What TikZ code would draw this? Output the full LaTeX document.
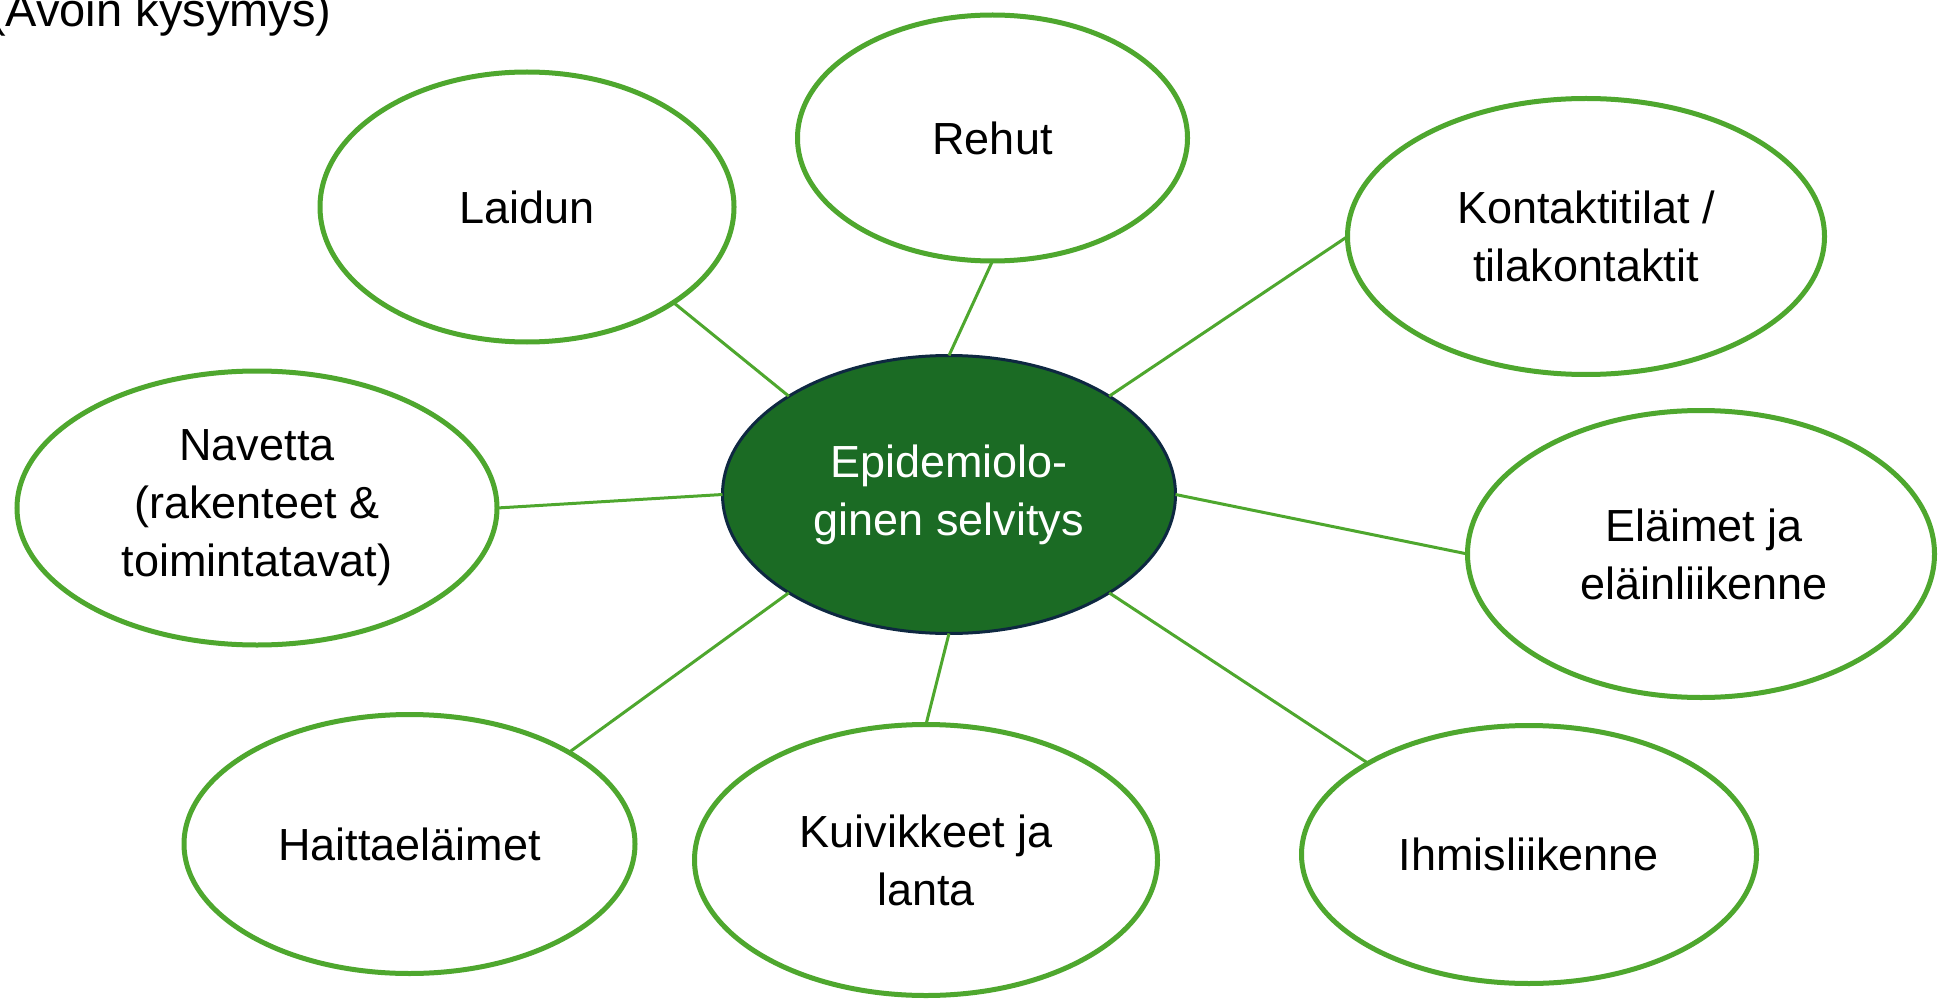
\documentclass[tikz,border=0pt]{standalone}
\usepackage{fontspec}
\setmainfont{Liberation Sans}
\usetikzlibrary{shapes.geometric}
\definecolor{lgreen}{HTML}{4EA72E}
\definecolor{dgreen}{HTML}{1B6B24}
\definecolor{navy}{HTML}{0E2841}
\begin{document}
\begin{tikzpicture}[x=1pt,y=-1pt,
  topic/.style={ellipse, draw=lgreen, line width=5pt, fill=white, inner sep=0pt, outer sep=0pt,
    align=center, font=\fontsize{45}{58}\selectfont, text=black},
  hub/.style={ellipse, draw=navy, line width=3pt, fill=dgreen, inner sep=0pt, outer sep=0pt,
    align=center, font=\fontsize{45}{58}\selectfont, text=white},
  link/.style={draw=lgreen, line width=3pt}]
\useasboundingbox (0,0) rectangle (1938,1000);
\node[anchor=base west, inner sep=0pt, font=\fontsize{47}{56}\selectfont] (title) at (-10,27) {(Avoin kysymys)};
\node[hub, minimum width=453pt, minimum height=278pt] (c) at (949,494.5) {Epidemiolo-\\ginen selvitys};
\node[topic, minimum width=414pt, minimum height=270pt] (laidun) at (527,207) {Laidun};
\node[topic, minimum width=390pt, minimum height=246pt] (rehut) at (992.5,138) {Rehut};
\node[topic, minimum width=477pt, minimum height=276pt] (kont) at (1586,236.5) {Kontaktitilat /\\tilakontaktit};
\node[topic, minimum width=480pt, minimum height=274pt] (nav) at (257,508) {Navetta\\(rakenteet \&\\toimintatavat)};
\node[topic, minimum width=467pt, minimum height=287pt] (elai) at (1701,554) {\hspace*{6pt}Eläimet ja\\\hspace*{6pt}eläinliikenne};
\node[topic, minimum width=451pt, minimum height=259pt] (hait) at (409.5,844) {Haittaeläimet};
\node[topic, minimum width=463pt, minimum height=271pt] (kuiv) at (926,860) {Kuivikkeet ja\\lanta};
\node[topic, minimum width=455pt, minimum height=258pt] (ihm) at (1529,854.5) {Ihmisliikenne};
\draw[link] (c.north west) -- (laidun.south east);
\draw[link] (c.north) -- (rehut.south);
\draw[link] (c.north east) -- (kont.west);
\draw[link] (c.west) -- (nav.east);
\draw[link] (c.east) -- (elai.west);
\draw[link] (c.south west) -- (hait.north east);
\draw[link] (c.south) -- (kuiv.north);
\draw[link] (c.south east) -- (ihm.north west);
\end{tikzpicture}
\end{document}
